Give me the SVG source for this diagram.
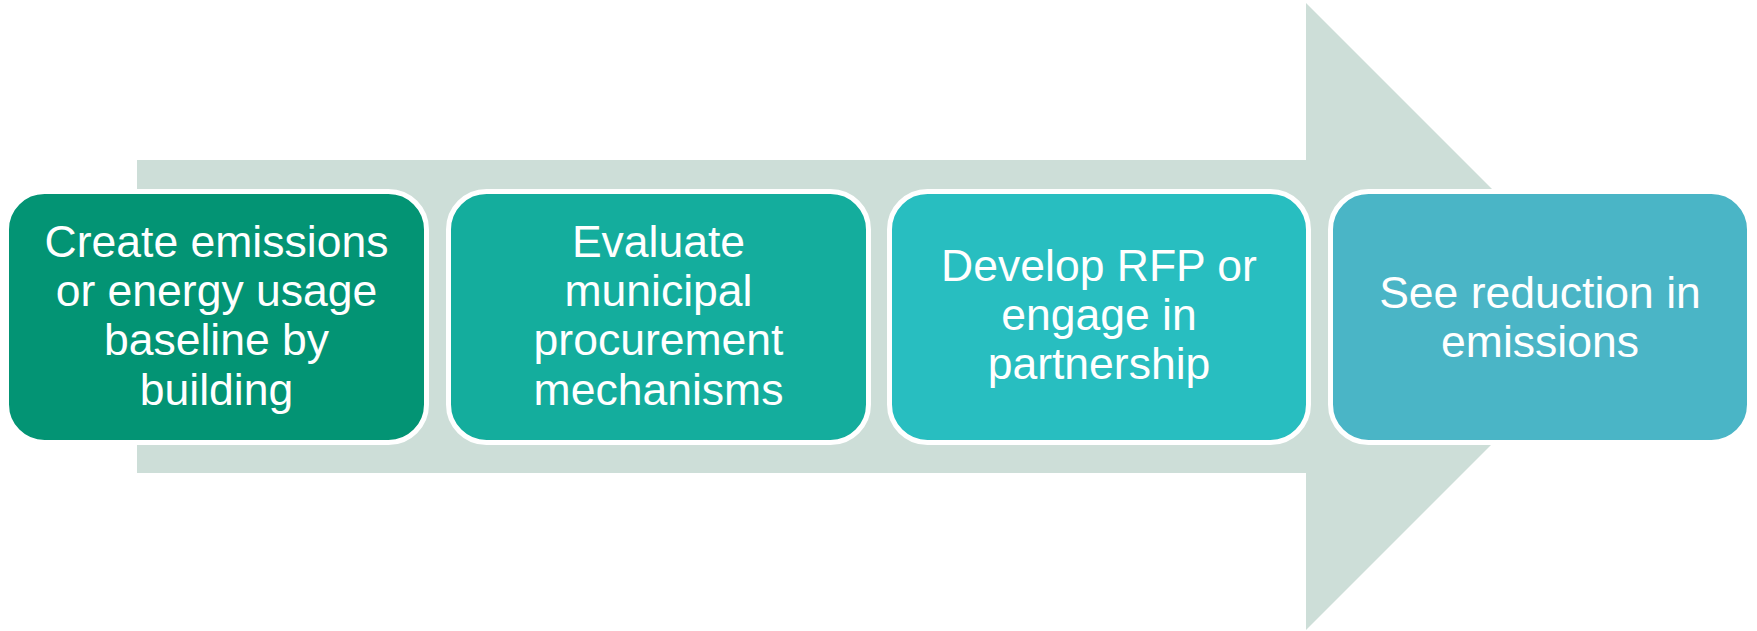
<svg xmlns="http://www.w3.org/2000/svg" width="1757" height="631" viewBox="0 0 1757 631">
  <style>
    .step { stroke: #ffffff; stroke-width: 5; }
    .label { font-family: "Liberation Sans", Arial, sans-serif; font-size: 44.5px; fill: #ffffff; text-anchor: middle; }
  </style>
  <rect width="1757" height="631" fill="#ffffff"/>

  <!-- background process arrow -->
  <g id="connectors">
    <polygon points="137,160 1306,160 1306,3 1619.5,316.5 1306,630 1306,473 137,473" fill="#CDDED8"/>
  </g>

  <g id="step1">
    <rect class="step" x="6.5" y="191.5" width="420" height="251" rx="38" fill="#039474"/>
    <text class="label" x="216.5" y="257">Create emissions</text>
    <text class="label" x="216.5" y="306">or energy usage</text>
    <text class="label" x="216.5" y="355">baseline by</text>
    <text class="label" x="216.5" y="405">building</text>
  </g>

  <g id="step2">
    <rect class="step" x="448.5" y="191.5" width="420" height="251" rx="38" fill="#14AD9D"/>
    <text class="label" x="658.5" y="257">Evaluate</text>
    <text class="label" x="658.5" y="306">municipal</text>
    <text class="label" x="658.5" y="355">procurement</text>
    <text class="label" x="658.5" y="405">mechanisms</text>
  </g>

  <g id="step3">
    <rect class="step" x="889.5" y="191.5" width="419" height="251" rx="38" fill="#28BEC0"/>
    <text class="label" x="1099" y="281">Develop RFP or</text>
    <text class="label" x="1099" y="330">engage in</text>
    <text class="label" x="1099" y="379">partnership</text>
  </g>

  <g id="step4">
    <rect class="step" x="1330.5" y="191.5" width="419" height="251" rx="38" fill="#4AB5C6"/>
    <text class="label" x="1540" y="308">See reduction in</text>
    <text class="label" x="1540" y="357">emissions</text>
  </g>
</svg>
